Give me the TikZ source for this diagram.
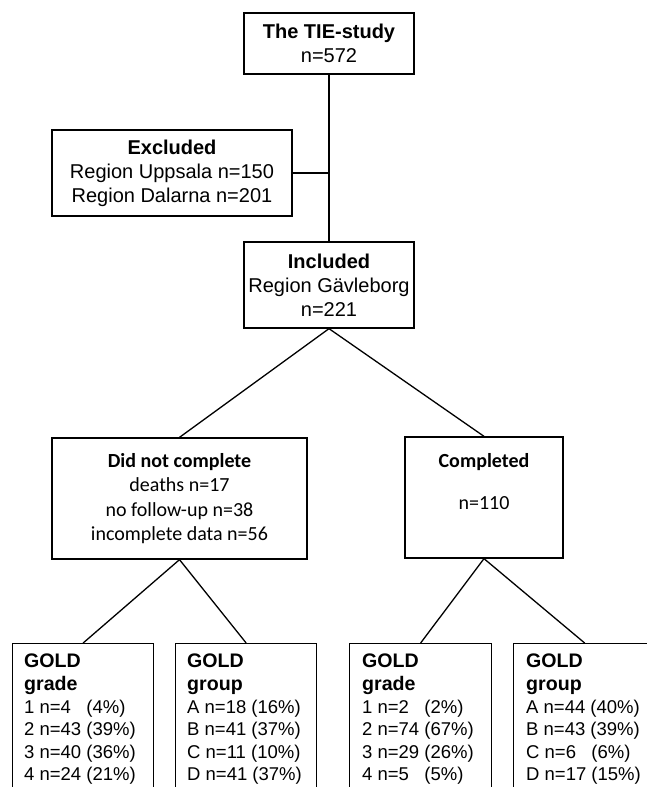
\documentclass[tikz,border=0pt]{standalone}
\usepackage{fontspec}
\setmainfont{Liberation Sans}
\newfontfamily\calib{Carlito}
\newcommand{\hd}[1]{{\fontsize{19.6}{22.6}\selectfont\textbf{#1}}}
\begin{document}
\begin{tikzpicture}[x=1pt,y=-1pt,
  box/.style={draw,line width=1.3pt,rectangle,inner sep=0pt},
  big/.style={font=\fontsize{20}{24}\selectfont,align=center},
  cal/.style={font=\calib\fontsize{20}{24.3}\selectfont,align=center},
  small/.style={font=\fontsize{18.5}{22.6}\selectfont,align=left,anchor=north west,inner sep=0pt},
  conn/.style={line width=1.3pt}]
\useasboundingbox (0,0) rectangle (647,787);
\clip (0,0) rectangle (647,787);
% top boxes
\node[box,big,minimum width=170,minimum height=61] (tie) at (329,43.5) {\textbf{The TIE-study}\\n=572};
\node[box,big,minimum width=240,minimum height=86] (exc) at (172,173) {\textbf{Excluded}\\Region Uppsala n=150\\Region Dalarna n=201};
\node[box,big,minimum width=170,minimum height=86] (inc) at (329,285) {\textbf{Included}\\Region Gävleborg\\n=221};
% middle boxes
\node[box,cal,minimum width=255,minimum height=121] (dnc) at (179.5,498.5) {\textbf{Did not complete}\\deaths n=17\\no follow-up n=38\\incomplete data n=56};
\node[box,minimum width=158,minimum height=121] (comp) at (484,497.5) {};
\node[cal] (compt) at (484,481.5) {\textbf{Completed}\\[17.7pt]n=110};
% bottom boxes (cut by the picture edge)
\node[box,minimum width=141,minimum height=200,anchor=north west] (g1) at (12,643) {};
\node[box,minimum width=141,minimum height=200,anchor=north west] (p1) at (175,643) {};
\node[box,minimum width=142,minimum height=200,anchor=north west] (g2) at (349,643) {};
\node[box,minimum width=142,minimum height=200,anchor=north west] (p2) at (513,643) {};
\node[small] (g1t) at ([xshift=12pt,yshift=-11pt]g1.north west) {\hd{GOLD}\\\hd{grade}\\1 n=4\ \ \ (4\%)\\2 n=43 (39\%)\\3 n=40 (36\%)\\4 n=24 (21\%)};
\node[small] (p1t) at ([xshift=12pt,yshift=-11pt]p1.north west) {\hd{GOLD}\\\hd{group}\\A n=18 (16\%)\\B n=41 (37\%)\\C n=11 (10\%)\\D n=41 (37\%)};
\node[small] (g2t) at ([xshift=13pt,yshift=-11pt]g2.north west) {\hd{GOLD}\\\hd{grade}\\1 n=2\ \ \ (2\%)\\2 n=74 (67\%)\\3 n=29 (26\%)\\4 n=5\ \ \ (5\%)};
\node[small] (p2t) at ([xshift=13pt,yshift=-11pt]p2.north west) {\hd{GOLD}\\\hd{group}\\A n=44 (40\%)\\B n=43 (39\%)\\C n=6\ \ \ (6\%)\\D n=17 (15\%)};
% connectors
\draw[conn] (tie.south) -- (inc.north);
\coordinate (j) at (exc.east -| tie.south);
\draw[conn] (exc.east) -- (j);
\draw[conn] (inc.south) -- (dnc.north);
\draw[conn] (inc.south) -- (comp.north);
\draw[conn] (dnc.south) -- (g1.north);
\draw[conn] (dnc.south) -- (p1.north);
\draw[conn] (comp.south) -- (g2.north);
\draw[conn] (comp.south) -- (p2.north);
\end{tikzpicture}
\end{document}
